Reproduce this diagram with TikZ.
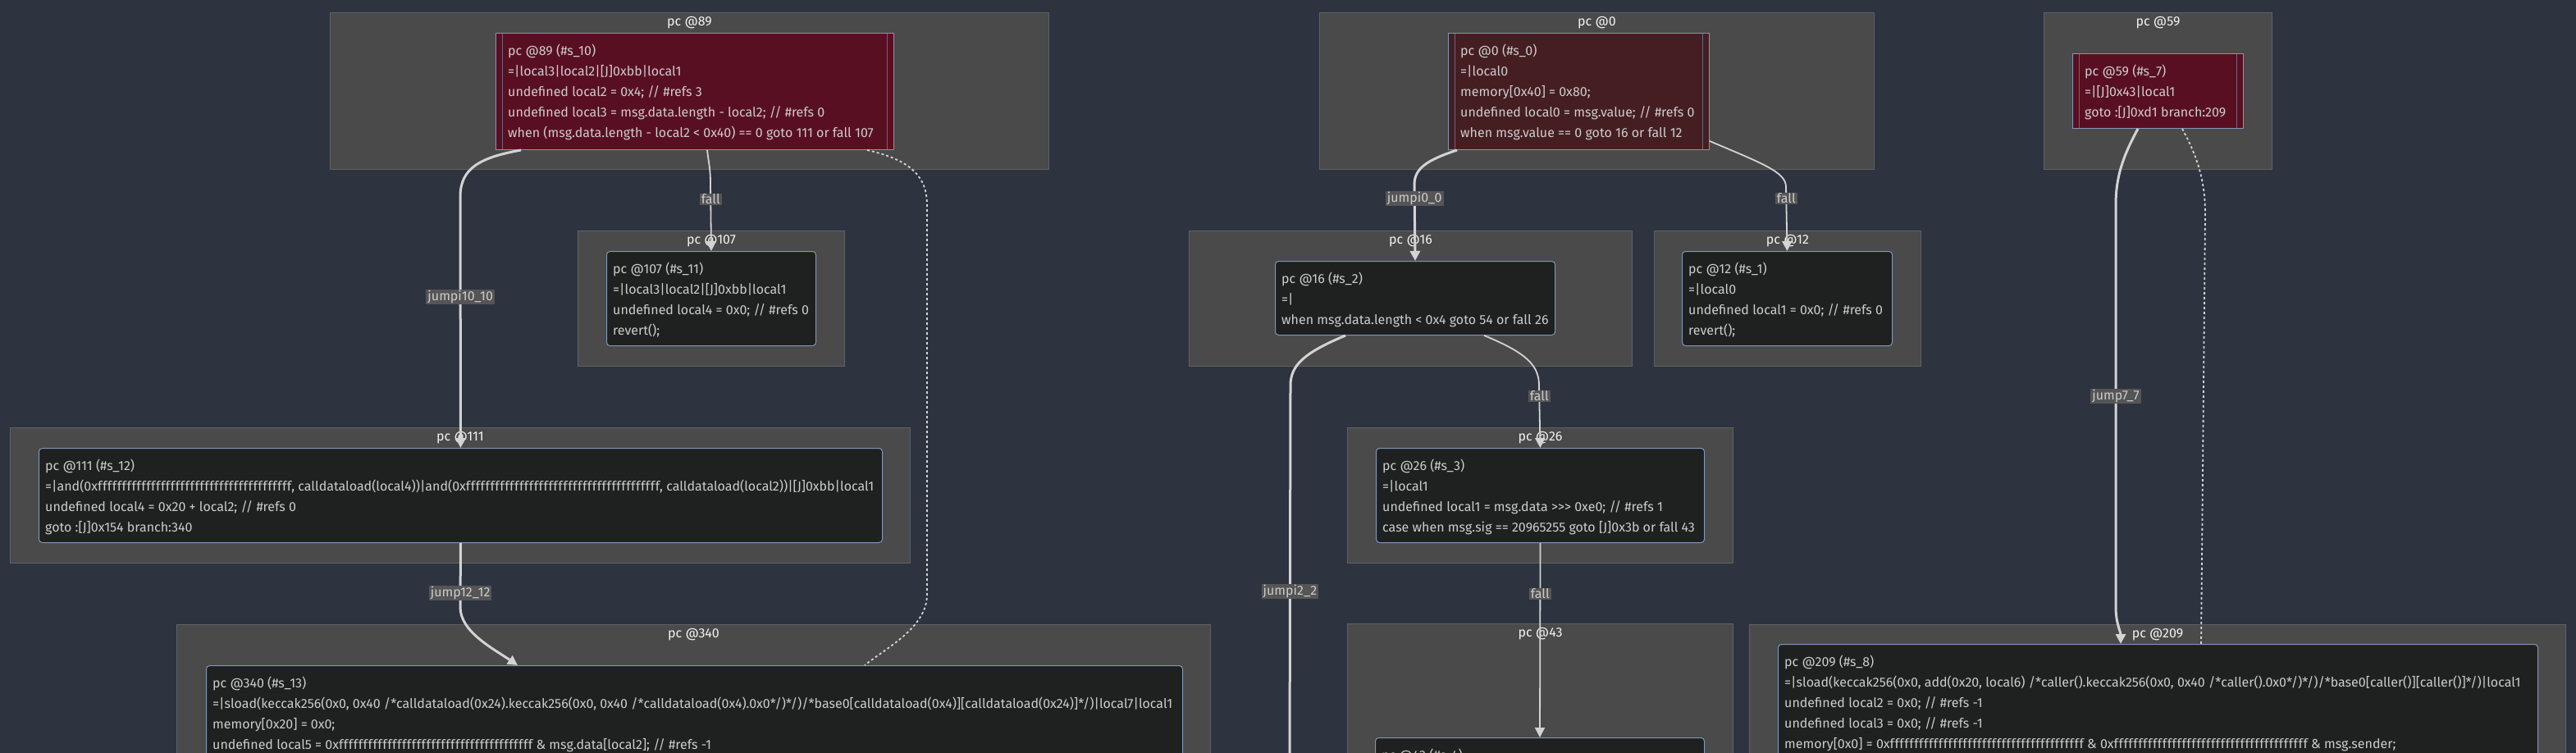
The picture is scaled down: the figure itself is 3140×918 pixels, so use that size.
\documentclass[tikz,border=0pt]{standalone}
\usepackage{fontspec}
\setmainfont{Fira Sans}
\usetikzlibrary{arrows.meta}

\definecolor{bgdark}{HTML}{2E3340}
\definecolor{clfill}{HTML}{494A49}
\definecolor{clline}{HTML}{5E6266}
\definecolor{blkfill}{HTML}{1F2020}
\definecolor{blkline}{HTML}{7F97B8}
\definecolor{hotred}{HTML}{590F22}
\definecolor{darkred}{HTML}{451E22}
\definecolor{codetext}{HTML}{CCCCCC}
\definecolor{titletext}{HTML}{F2F2F2}
\definecolor{edgecol}{HTML}{D3D3D3}
\definecolor{lblfill}{HTML}{555555}

\newcommand\codefont{\fontsize{16}{25}\selectfont}
\newcommand\ffmask{{\addfontfeature{LetterSpace=3.5}ffffffffffffffffffffffffffffffffffffffff}}

\begin{document}
\begin{tikzpicture}[x=1pt,y=-1pt,>={Stealth[length=12pt,width=12pt,inset=0pt]},
    cluster/.style={draw=clline,fill=clfill,line width=1pt,anchor=north west,inner sep=0pt},
    ctitle/.style={text=titletext,font=\codefont,inner sep=0pt},
    blk/.style={draw=blkline,fill=blkfill,line width=1pt,rounded corners=4pt,anchor=north west,inner sep=0pt},
    subr/.style={draw=blkline,fill=#1,line width=1pt,anchor=north west,inner sep=0pt,
      path picture={\draw[blkline!60!#1,line width=1pt]
        ([xshift=8pt]path picture bounding box.north west) -- ([xshift=8pt]path picture bounding box.south west)
        ([xshift=-8pt]path picture bounding box.north east) -- ([xshift=-8pt]path picture bounding box.south east);}},
    code/.style={anchor=north west,align=left,text=codetext,font=\codefont,inner sep=0pt},
    jmp/.style={edgecol,line width=3pt,->},
    fl/.style={edgecol,line width=1.8pt,->},
    dotty/.style={edgecol,line width=1.8pt,dash pattern=on 3pt off 3pt},
    lbl/.style={fill=lblfill,text=codetext,font=\codefont,inner xsep=2pt,inner ysep=1pt}]

  \useasboundingbox (0,0) rectangle (3140,918);
  \clip (0,0) rectangle (3140,918);
  \fill[bgdark] (0,0) rectangle (3140,918);

  % clusters
  \node[cluster,minimum width=876pt,minimum height=191pt] (c89) at (402,15) {};
  \node[cluster,minimum width=676pt,minimum height=191pt] (c0) at (1608,15) {};
  \node[cluster,minimum width=278pt,minimum height=191pt] (c59) at (2491,15) {};
  \node[cluster,minimum width=325pt,minimum height=165pt] (c107) at (704,281) {};
  \node[cluster,minimum width=540pt,minimum height=165pt] (c16) at (1449,281) {};
  \node[cluster,minimum width=325pt,minimum height=165pt] (c12) at (2016,281) {};
  \node[cluster,minimum width=1097pt,minimum height=165pt] (c111) at (12,521) {};
  \node[cluster,minimum width=470pt,minimum height=165pt] (c26) at (1642,521) {};
  \node[cluster,minimum width=1260pt,minimum height=200pt] (c340) at (215,761) {};
  \node[cluster,minimum width=470pt,minimum height=200pt] (c43) at (1642,760) {};
  \node[cluster,minimum width=995pt,minimum height=200pt] (c209) at (2132,761) {};

  \foreach \c/\t in {c89/89,c0/0,c59/59,c107/107,c16/16,c12/12,c111/111,c26/26,c340/340,c43/43,c209/209}
    \node[ctitle] (\c-t) at ([yshift=-13pt]\c.north) {pc @\t};

  % blocks
  \node[subr=hotred,minimum width=485pt,minimum height=142pt] (s10) at (604,40) {};
  \node[code] (s10t) at ([shift={(15pt,-14pt)}]s10.north west) {pc @89 (\#s\_10)\\=|local3|local2|[J]0xbb|local1\\undefined local2 = 0x4; // \#refs 3\\undefined local3 = msg.data.length - local2; // \#refs 0\\when (msg.data.length - local2 < 0x40) == 0 goto 111 or fall 107};

  \node[subr=darkred,minimum width=318pt,minimum height=142pt] (s0) at (1765,40) {};
  \node[code] (s0t) at ([shift={(15pt,-14pt)}]s0.north west) {pc @0 (\#s\_0)\\=|local0\\memory[0x40] = 0x80;\\undefined local0 = msg.value; // \#refs 0\\when msg.value == 0 goto 16 or fall 12};

  \node[subr=hotred,minimum width=208pt,minimum height=91pt] (s7) at (2526,65) {};
  \node[code] (s7t) at ([shift={(15pt,-14pt)}]s7.north west) {pc @59 (\#s\_7)\\=|[J]0x43|local1\\goto :[J]0xd1 branch:209};

  \node[blk,minimum width=255pt,minimum height=115pt] (s11) at (739,306) {};
  \node[code] (s11t) at ([shift={(8pt,-14pt)}]s11.north west) {pc @107 (\#s\_11)\\=|local3|local2|[J]0xbb|local1\\undefined local4 = 0x0; // \#refs 0\\revert();};

  \node[blk,minimum width=341pt,minimum height=90pt] (s2) at (1554,318) {};
  \node[code] (s2t) at ([shift={(8pt,-14pt)}]s2.north west) {pc @16 (\#s\_2)\\=|\\when msg.data.length < 0x4 goto 54 or fall 26};

  \node[blk,minimum width=256pt,minimum height=115pt] (s1) at (2050,306) {};
  \node[code] (s1t) at ([shift={(8pt,-14pt)}]s1.north west) {pc @12 (\#s\_1)\\=|local0\\undefined local1 = 0x0; // \#refs 0\\revert();};

  \node[blk,minimum width=1028pt,minimum height=115pt] (s12) at (47,546) {};
  \node[code] (s12t) at ([shift={(8pt,-14pt)}]s12.north west) {pc @111 (\#s\_12)\\=|and(0x\ffmask, calldataload(local4))|and(0x\ffmask, calldataload(local2))|[J]0xbb|local1\\undefined local4 = 0x20 + local2; // \#refs 0\\goto :[J]0x154 branch:340};

  \node[blk,minimum width=400pt,minimum height=115pt] (s3) at (1677,546) {};
  \node[code] (s3t) at ([shift={(8pt,-14pt)}]s3.north west) {pc @26 (\#s\_3)\\=|local1\\undefined local1 = msg.data >{}>{}> 0xe0; // \#refs 1\\case when msg.sig == 20965255 goto [J]0x3b or fall 43};

  \node[blk,minimum width=1190pt,minimum height=150pt] (s13) at (251,811) {};
  \node[code] (s13t) at ([shift={(8pt,-14pt)}]s13.north west) {pc @340 (\#s\_13)\\=|sload(keccak256(0x0, 0x40 /*calldataload(0x24).keccak256(0x0, 0x40 /*calldataload(0x4).0x0*/)*/)/*base0[calldataload(0x4)][calldataload(0x24)]*/)|local7|local1\\memory[0x20] = 0x0;\\undefined local5 = 0x\ffmask{} \& msg.data[local2]; // \#refs -1};

  \node[blk,minimum width=401pt,minimum height=100pt] (s4) at (1676,899) {};
  \node[code] (s4t) at ([shift={(8pt,-14pt)}]s4.north west) {pc @43 (\#s\_4)};

  \node[blk,minimum width=926pt,minimum height=170pt] (s8) at (2167,785) {};
  \node[code] (s8t) at ([shift={(8pt,-14pt)}]s8.north west) {pc @209 (\#s\_8)\\=|sload(keccak256(0x0, add(0x20, local6) /*caller().keccak256(0x0, 0x40 /*caller().0x0*/)*/)/*base0[caller()][caller()]*/)|local1\\undefined local2 = 0x0; // \#refs -1\\undefined local3 = 0x0; // \#refs -1\\memory[0x0] = 0x\ffmask{} \& 0x\ffmask{} \& msg.sender;};

  \coordinate (off54) at (1572,940);

  % edges
  \draw[jmp] ([xshift=31pt]s10.south west) .. controls (585,192) and (561,205) .. (561,240)
    -- node[lbl,pos=0.4] (l1) {jumpi10\_10} (s12.north);
  \draw[fl] ([xshift=15pt]s10.south) .. controls (864,200) and (866,205) .. (866,225)
    -- node[lbl,pos=0.22] (l2) {fall} (s11.north);
  \draw[dotty] ([xshift=-33pt]s10.south east) .. controls (1110,195) and (1130,215) .. (1130,250)
    -- (1130,725) .. controls (1130,765) and (1080,790) .. ([xshift=803pt]s13.north west);
  \draw[jmp] (s12.south) -- node[lbl,pos=0.78] (l3) {jump12\_12} (561,740)
    .. controls (561,770) and (600,790) .. ([xshift=380pt]s13.north west);

  \draw[jmp] ([xshift=11pt]s0.south west) .. controls (1740,195) and (1724,205) .. (1724,225)
    -- node[lbl,pos=0.18] (l4) {jumpi0\_0} (s2.north);
  \draw[fl] ([yshift=11pt]s0.south east) .. controls (2150,200) and (2177,210) .. (2177,228)
    -- node[lbl,pos=0.18] (l5) {fall} (s1.north);
  \draw[fl] ([xshift=-87pt]s2.south east) .. controls (1860,430) and (1876,445) .. (1876,470)
    -- node[lbl,pos=0.17] (l6) {fall} (s3.north);
  \draw[jmp] ([xshift=86pt]s2.south west) .. controls (1590,430) and (1573,445) .. (1573,470)
    -- node[lbl,pos=0.534] (l7) {jumpi2\_2} (off54);
  \draw[fl] (s3.south) -- node[lbl,pos=0.26] (l8) {fall} (s4.north);

  \draw[jmp] ([xshift=80pt]s7.south west) .. controls (2588,190) and (2579,215) .. (2579,250)
    -- node[lbl,pos=0.475] (l9) {jump7\_7} (2579,740)
    .. controls (2579,760) and (2585,770) .. ([xshift=418pt]s8.north west);
  \draw[dotty] ([xshift=-75pt]s7.south east) .. controls (2678,190) and (2688,220) .. (2688,260)
    -- ([xshift=516pt]s8.north west);
\end{tikzpicture}
\end{document}
